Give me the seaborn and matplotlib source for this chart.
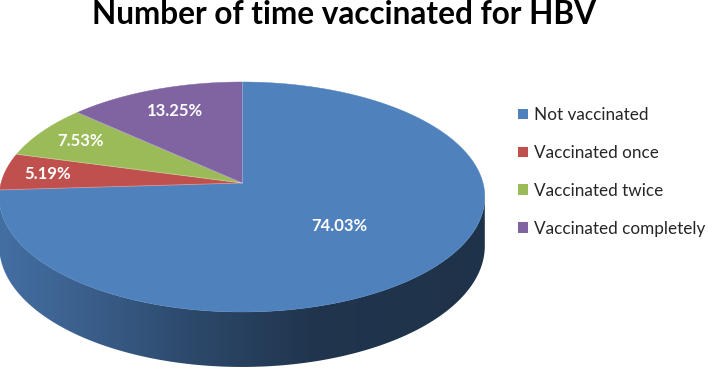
import numpy as np
import matplotlib
matplotlib.use("Agg")
import matplotlib.pyplot as plt
import matplotlib.colors as mcolors
import seaborn as sns
from matplotlib.patches import Patch, Polygon

# ---- data ----
categories = ["Not vaccinated", "Vaccinated once", "Vaccinated twice", "Vaccinated completely"]
values = [74.03, 5.19, 7.53, 13.25]
value_labels = ["74.03%", "5.19%", "7.53%", "13.25%"]
colors = ["#4F81BD", "#C0504D", "#9BBB59", "#8064A2"]
title = "Number of time vaccinated for HBV"

sns.set_theme(style="white")
plt.rcParams['font.family'] = ['Lato', 'DejaVu Sans']

W, H = 708, 368
fig = plt.figure(figsize=(W / 100, H / 100), dpi=100)
ax = fig.add_axes([0, 0, 1, 1])
ax.set_axis_off()

# pixel geometry of the 3D pie
CX, CY = 242.0, 183.0   # apex in pixels (from top)
RX, RY = 241.0, 113.3   # scales
K = 0.1217              # perspective factor
DEPTH = 0.426           # thickness in Y units
xlim = (-CX / RX, (W - CX) / RX)
ylim = ((CY - H) / RY, CY / RY)
ax.set_xlim(*xlim)
ax.set_ylim(*ylim)


def proj(u, v):
    w = 1 + K * v
    return u / w, v / w


fr = np.array(values) / np.sum(values)
starts = 90 - 360 * np.concatenate([[0], np.cumsum(fr)[:-1]])
ends = starts - 360 * fr
bounds = 360 * np.cumsum(fr)


def slice_of(angle_deg):
    off = (90 - angle_deg) % 360
    return int(np.clip(np.searchsorted(bounds, off, side='right'), 0, len(fr) - 1))


# side (visible front part), one polygon per slice part, shaded with a gradient
a0 = np.degrees(np.arcsin(K))
th_side = np.linspace(-180 + a0, -a0, 800)
idx = np.array([slice_of(t) for t in th_side])
gx = np.linspace(xlim[0], xlim[1], W)
shade = np.interp(gx, [-1.0, -0.6, -0.2, 0.3, 1.0], [0.86, 0.72, 0.56, 0.41, 0.39])
for si in np.unique(idx):
    t = np.radians(th_side[idx == si])
    xt, yt = proj(np.cos(t), np.sin(t))
    d = DEPTH / (1 + K * np.sin(t))
    pts = np.column_stack([np.concatenate([xt, xt[::-1]]),
                           np.concatenate([yt, (yt - d)[::-1]])])
    poly = Polygon(pts, closed=True, facecolor="none", edgecolor="none")
    ax.add_patch(poly)
    base = np.array(mcolors.to_rgb(colors[si]))
    img = np.clip(base[None, None, :] * shade[None, :, None], 0, 1)
    img = np.repeat(img, 4, axis=0)
    im = ax.imshow(img, extent=(xlim[0], xlim[1], ylim[0], ylim[1]),
                   aspect="auto", origin="lower", zorder=2, interpolation="nearest")
    im.set_clip_path(poly)

# top face
for s, e, c in zip(starts, ends, colors):
    th = np.radians(np.linspace(s, e, 300))
    u = np.concatenate([[0], np.cos(th), [0]])
    v = np.concatenate([[0], np.sin(th), [0]])
    X, Y = proj(u, v)
    ax.fill(X, Y, color=c, lw=0.3, ec=c, zorder=3)

# light separators between wedges
for s in starts:
    r = np.radians(s)
    X, Y = proj(np.array([0, np.cos(r)]), np.array([0, np.sin(r)]))
    ax.plot(X, Y, color="white", lw=0.6, alpha=0.35, zorder=4)

# labels
label_r = [0.53, 0.82, 0.8, 0.75]
for s, e, lab, rr in zip(starts, ends, value_labels, label_r):
    m = np.radians((s + e) / 2)
    X, Y = proj(rr * np.cos(m), rr * np.sin(m))
    ax.text(X, Y, lab, color="white", fontsize=12, fontweight="bold",
            ha="center", va="center", zorder=5)

ax.set_xlim(*xlim)
ax.set_ylim(*ylim)

# title
fig.text(344 / W, 1 - 24 / H, title, ha="center", va="baseline",
         fontsize=22.7, fontweight="bold", color="black")

# legend
handles = [Patch(facecolor=c, edgecolor="none", label=n) for c, n in zip(colors, categories)]
fig.legend(handles=handles, loc="upper left", bbox_to_anchor=(518 / W, 1 - 107 / H),
           frameon=False, fontsize=12.3, handlelength=0.58, handleheight=0.58,
           handletextpad=0.38, labelspacing=1.28, borderaxespad=0, borderpad=0)

fig.savefig("out.png", dpi=100, facecolor="white")
